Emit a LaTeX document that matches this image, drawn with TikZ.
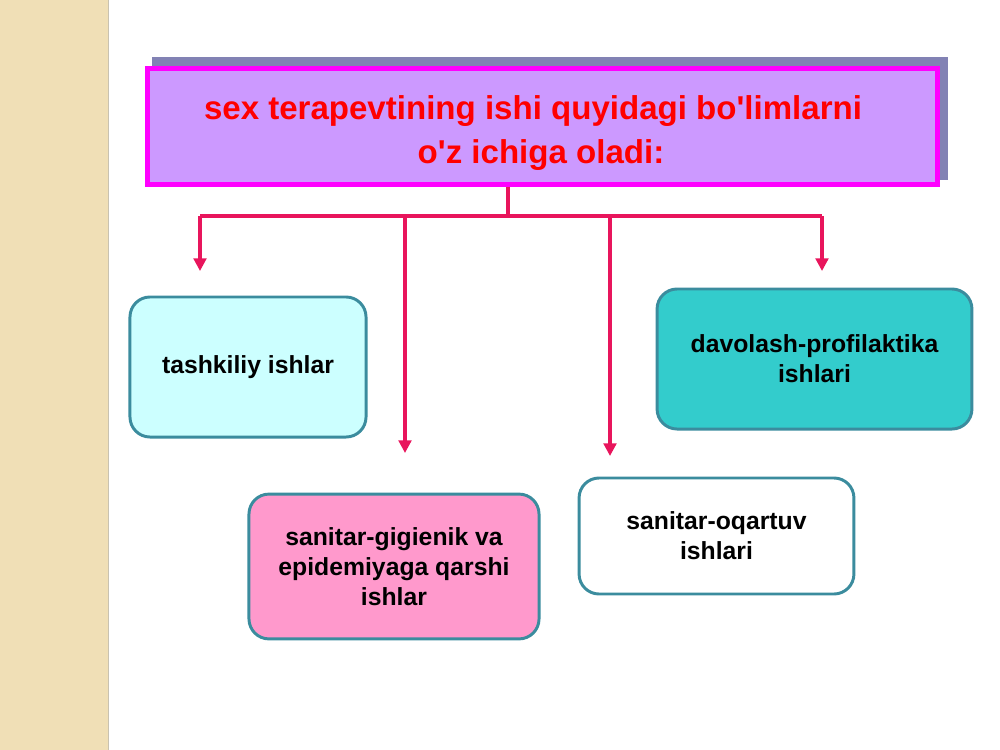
\documentclass[tikz,border=0pt]{standalone}
\usepackage{fontspec}
\setmainfont{Liberation Sans}
\newfontfamily\plainsans{Liberation Sans}
\usetikzlibrary{arrows.meta}

\definecolor{stripbeige}{HTML}{F0DFB6}
\definecolor{stripedge}{HTML}{C9C2B0}
\definecolor{titlefill}{HTML}{CC99FF}
\definecolor{titleedge}{HTML}{FF00FF}
\definecolor{titleshadow}{HTML}{8282B4}
\definecolor{titletext}{HTML}{FF0000}
\definecolor{linkred}{HTML}{E8155C}
\definecolor{boxedge}{HTML}{3B8C9E}
\definecolor{lightcyan}{HTML}{CCFFFF}
\definecolor{pinkfill}{HTML}{FF99CC}
\definecolor{tealfill}{HTML}{33CCCC}

\tikzset{
  item/.style={draw=boxedge, line width=2.1pt, rounded corners=0.5cm,
    align=center, font=\fontsize{17.6}{21.3}\selectfont\bfseries},
  link/.style={draw=linkred, line width=2.2pt},
  arrow/.style={link, -{Triangle[width=9pt,length=9pt]}}
}

\begin{document}
\begin{tikzpicture}[x=0.025cm, y=-0.025cm]
	\useasboundingbox (0,0) rectangle (1000,750);

	% left strip
	\fill[stripbeige] (0,0) rectangle (108,750);
	\draw[stripedge, line width=1.2pt] (108.5,0) -- (108.5,750);

	% title
	\fill[titleshadow] (152,57) rectangle (948,180);
	\node[draw=titleedge, fill=titlefill, line width=3.5pt, minimum width=19.75cm, minimum height=2.9cm] (title) at (542.5,126.5) {};
	\node[align=center, text=titletext, font=\fontsize{23.5}{31}\selectfont\plainsans\bfseries] (heading) at (533,133)
		{sex terapevtining ishi quyidagi bo'limlarni\\ \hspace*{0.4cm}o'z ichiga oladi:};

	% boxes
	\node[item, fill=lightcyan, minimum width=5.9cm, minimum height=3.5cm] (tashkiliy) at (248,367) {tashkiliy ishlar};
	\node[item, fill=pinkfill, minimum width=7.25cm, minimum height=3.62cm] (gigiena) at (394,566.5) {sanitar-gigienik va\\ epidemiyaga qarshi\\ ishlar};
	\node[item, fill=white, minimum width=6.87cm, minimum height=2.9cm] (oqartuv) at (716.5,536) {sanitar-oqartuv\\ ishlari};
	\node[item, fill=tealfill, minimum width=7.87cm, minimum height=3.5cm] (davolash) at (814.5,359) {davolash-profilaktika\\ ishlari};

	% arrow ends
	\coordinate (fork) at (508,216);
	\coordinate (e1) at (200,271);
	\coordinate (e2) at (405,453);
	\coordinate (e3) at (610,456);
	\coordinate (e4) at (822,271);

	\path[link] (title.south -| fork) -- (fork);
	\path[link] (e1 |- fork) -- (e4 |- fork);
	\path[arrow] (e1 |- fork) -- (e1);
	\path[arrow] (e2 |- fork) -- (e2);
	\path[arrow] (e3 |- fork) -- (e3);
	\path[arrow] (e4 |- fork) -- (e4);

\end{tikzpicture}
\end{document}
